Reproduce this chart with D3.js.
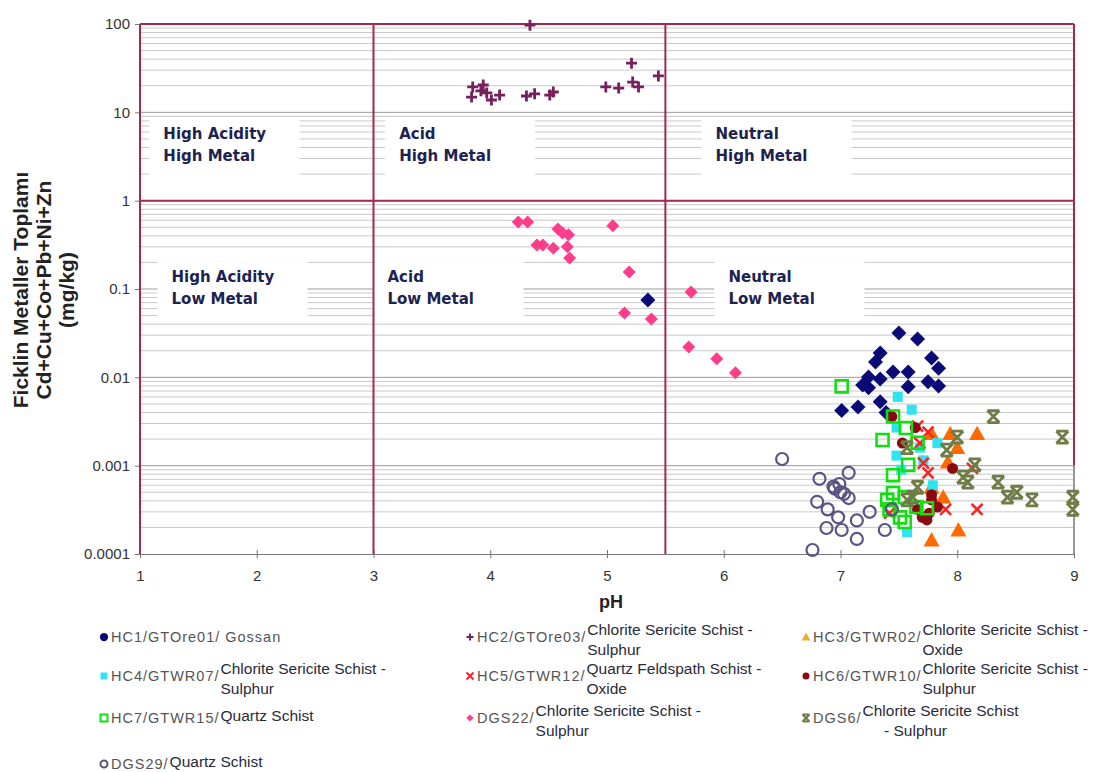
<!DOCTYPE html>
<html>
<head>
<meta charset="utf-8">
<script src="https://cdn.jsdelivr.net/npm/d3@7"></script>
<style>
  html, body { margin: 0; padding: 0; background: #fff; }
  svg { display: block; }
  .pre { white-space: pre; }
</style>
</head>
<body>
<svg id="chart" width="1107" height="772"></svg>
<script>
// pH / total metal (mg/kg) pairs for each sample group
const hc1 = [[5.35,0.075],[7.50,0.0318],[7.66,0.0272],[7.34,0.0188],[7.30,0.0149],[7.78,0.0166],[7.84,0.0127],[7.45,0.0115],[7.58,0.0115],[7.24,0.0101],[7.34,0.0096],[7.19,0.0082],[7.24,0.0076],[7.58,0.0078],[7.75,0.0089],[7.84,0.0080],[7.01,0.0042],[7.15,0.0046],[7.34,0.0053],[7.39,0.0040]];
const hc2 = [[4.34,97],[5.21,36],[5.44,25.8],[5.22,22],[5.27,19.4],[4.99,19.4],[5.10,18.8],[3.85,19.4],[3.94,20.4],[3.84,14.9],[3.97,16.6],[4.01,13.8],[4.08,15.7],[4.31,15.3],[4.38,16.2],[4.51,15.7],[4.54,17.0],[3.92,17.5]];
const hc3 = [[7.94,0.0023],[8.17,0.0023],[7.78,0.0023],[8.00,0.0016],[7.92,0.0011],[7.88,0.00044],[7.78,0.00057],[8.01,0.000187],[7.78,0.000144]];
const hc4 = [[7.49,0.006],[7.61,0.0043],[7.48,0.0027],[7.83,0.0018],[7.48,0.0013],[7.71,0.00115],[7.79,0.0006],[7.57,0.000177],[7.68,0.0016],[7.52,0.0009]];
const hc5 = [[7.66,0.0028],[7.75,0.0024],[7.71,0.00107],[7.75,0.00083],[8.17,0.00032],[7.90,0.00032],[7.42,0.00029],[8.13,0.00093],[7.68,0.0018]];
const hc6 = [[7.44,0.0036],[7.96,0.00093],[7.70,0.00026],[7.76,0.00029],[7.83,0.00034],[7.66,0.00032],[7.74,0.000243],[7.78,0.00041],[7.53,0.0018],[7.78,0.00047],[7.64,0.0027]];
const hc7 = [[7.01,0.0079],[7.45,0.0036],[7.56,0.00267],[7.36,0.00195],[7.66,0.00182],[7.58,0.00102],[7.45,0.00078],[7.45,0.00049],[7.40,0.00041],[7.55,0.00044],[7.74,0.00033],[7.42,0.00032],[7.51,0.00026],[7.65,0.00034],[7.55,0.00023]];
const dgs22 = [[4.24,0.573],[4.32,0.573],[4.58,0.478],[4.62,0.43],[4.67,0.41],[5.05,0.52],[4.40,0.315],[4.45,0.315],[4.54,0.29],[4.66,0.30],[4.68,0.224],[5.19,0.156],[5.15,0.0535],[5.38,0.0457],[5.72,0.0925],[5.70,0.022],[5.94,0.0162],[6.10,0.0113]];
const dgs6 = [[8.31,0.0036],[8.90,0.0021],[8.00,0.0021],[7.91,0.0015],[8.15,0.00102],[8.05,0.00074],[8.09,0.00065],[8.35,0.00065],[8.51,0.0005],[8.43,0.00044],[8.64,0.00041],[8.99,0.00044],[8.99,0.00032],[7.57,0.0016],[7.66,0.00057],[7.57,0.00041],[7.62,0.00044]];
const dgs29 = [[6.50,0.00119],[6.82,0.00071],[7.07,0.00083],[6.94,0.00058],[7.00,0.0005],[7.07,0.00043],[6.80,0.00039],[6.89,0.00032],[6.98,0.00026],[7.14,0.00024],[7.25,0.0003],[6.88,0.000197],[7.01,0.000187],[7.14,0.000148],[7.38,0.000187],[6.76,0.000111],[7.44,0.00032],[6.95,0.00055],[6.99,0.00062],[7.03,0.00048]];

// axis ticks and class boundaries
const xTicks = [1, 2, 3, 4, 5, 6, 7, 8, 9];
const yTicks = [0.0001, 0.001, 0.01, 0.1, 1, 10, 100];
const yTickLabels = ["0.0001", "0.001", "0.01", "0.1", "1", "10", "100"];
const pHBounds = [3, 5.5];
const metalBound = 1;

// legend entries: code, description lines
const legendCodes = ["HC1/GTOre01/ Gossan", "HC2/GTOre03/", "HC3/GTWR02/", "HC4/GTWR07/", "HC5/GTWR12/", "HC6/GTWR10/", "HC7/GTWR15/", "DGS22/", "DGS6/", "DGS29/"];
const legendDescs = [[], ["Chlorite Sericite Schist -", "Sulphur"], ["Chlorite Sericite Schist -", "Oxide"], ["Chlorite Sericite Schist -", "Sulphur"], ["Quartz Feldspath Schist -", "Oxide"], ["Chlorite Sericite Schist -", "Sulphur"], ["Quartz Schist"], ["Chlorite Sericite Schist -", "Sulphur"], ["Chlorite Sericite Schist", "     - Sulphur"], ["Quartz Schist"]];

const regionLabels = [
  {lines: ["High Acidity", "High Metal"], ph: 1.2, v: 5},
  {lines: ["Acid", "High Metal"], ph: 3.22, v: 5},
  {lines: ["Neutral", "High Metal"], ph: 5.93, v: 5},
  {lines: ["High Acidity", "Low Metal"], ph: 1.27, v: 0.12},
  {lines: ["Acid", "Low Metal"], ph: 3.12, v: 0.12},
  {lines: ["Neutral", "Low Metal"], ph: 6.04, v: 0.12}
];

const m = {left: 140, right: 1074, top: 24, bottom: 554};
const svg = d3.select("#chart");
const x = d3.scaleLinear().domain([1, 9]).range([m.left, m.right]);
const y = d3.scaleLog().domain([0.0001, 100]).range([m.bottom, m.top]);
const boundColor = "#a32a4c";
const sans = "Liberation Sans, Arial, sans-serif";

// horizontal log grid
const grid = svg.append("g");
const minor = [];
for (let e = -4; e < 2; e++) for (let k = 2; k <= 9; k++) minor.push(k * Math.pow(10, e));
grid.selectAll("line.minor").data(minor).join("line")
  .attr("x1", m.left).attr("x2", m.right)
  .attr("y1", d => y(d)).attr("y2", d => y(d))
  .attr("stroke", "#c9c9c9").attr("stroke-width", 1);
grid.selectAll("line.major").data(yTicks.slice(1, -1)).join("line")
  .attr("x1", m.left).attr("x2", m.right)
  .attr("y1", d => y(d)).attr("y2", d => y(d))
  .attr("stroke", "#9a9a9a").attr("stroke-width", 1);

// white boxes behind the region labels
const labelG = svg.append("g");
regionLabels.forEach(r => {
  const x0 = x(r.ph), y0 = y(r.v);
  labelG.append("rect").attr("x", x0 - 14).attr("y", y0 - 20)
    .attr("width", 150).attr("height", 58).attr("fill", "#fff");
});

// bottom axis
const xAxis = svg.append("g").attr("transform", `translate(0,${m.bottom})`)
  .call(d3.axisBottom(x).tickValues(xTicks).tickFormat(d3.format("d")).tickSize(4));
xAxis.select(".domain").attr("stroke", "#777");
xAxis.selectAll(".tick line").attr("stroke", "#777").attr("y1", -4).attr("y2", 4);
xAxis.selectAll("text").attr("font-family", sans)
  .attr("font-size", 15).attr("fill", "#333").attr("dy", "1.35em");

// left axis
const yAxis = svg.append("g").attr("transform", `translate(${m.left},0)`)
  .call(d3.axisLeft(y).tickValues(yTicks).tickFormat((d, i) => yTickLabels[i]).tickSize(5));
yAxis.select(".domain").remove();
yAxis.selectAll(".tick line").attr("stroke", "#777");
yAxis.selectAll("text").attr("font-family", sans)
  .attr("font-size", 15).attr("fill", "#333").attr("x", -10);

// class boundaries and frame
const frame = svg.append("g").attr("stroke", boundColor).attr("stroke-width", 2).attr("fill", "none");
frame.append("line").attr("x1", m.left).attr("x2", m.right).attr("y1", y(100)).attr("y2", y(100));
frame.append("line").attr("x1", m.left).attr("x2", m.right).attr("y1", y(metalBound)).attr("y2", y(metalBound));
frame.append("line").attr("x1", m.left).attr("x2", m.left).attr("y1", m.top).attr("y2", m.bottom);
frame.append("line").attr("x1", m.right).attr("x2", m.right).attr("y1", m.top).attr("y2", y(0.001));
frame.append("line").attr("x1", m.right).attr("x2", m.right).attr("y1", y(0.001)).attr("y2", m.bottom).attr("stroke", "#999");
pHBounds.forEach(p => frame.append("line").attr("x1", x(p)).attr("x2", x(p)).attr("y1", m.top).attr("y2", m.bottom));

// region labels
regionLabels.forEach(r => {
  const t = labelG.append("text").attr("x", x(r.ph)).attr("y", y(r.v))
    .attr("font-family", "DejaVu Sans, Verdana, sans-serif").attr("font-weight", "bold")
    .attr("font-size", 15).attr("fill", "#1d2350");
  r.lines.forEach((ln, i) => t.append("tspan").attr("x", x(r.ph)).attr("dy", i ? 22 : 0).text(ln));
});

// marker shapes
function shapePath(type, r) {
  switch (type) {
    case "diamond": return `M0,${-r}L${r},0L0,${r}L${-r},0Z`;
    case "square": return `M${-r},${-r}H${r}V${r}H${-r}Z`;
    case "triangle": return `M0,${-r}L${r},${r * 0.8}L${-r},${r * 0.8}Z`;
    case "plus": return `M${-r},0H${r}M0,${-r}V${r}`;
    case "x": return `M${-r},${-r}L${r},${r}M${-r},${r}L${r},${-r}`;
    case "star": return `M${-r},${-r}L${r},${r}M${-r},${r}L${r},${-r}M${-r},${-r}H${r}M${-r},${r}H${r}`;
    case "circle": return `M${r},0A${r},${r} 0 1 1 ${-r},0A${r},${r} 0 1 1 ${r},0Z`;
  }
}

const series = [
  {data: hc1, type: "diamond", r: 7.5, fill: "#0b0b78", stroke: "none", sw: 0},
  {data: hc2, type: "plus", r: 5.5, fill: "none", stroke: "#76205e", sw: 2.8},
  {data: hc3, type: "triangle", r: 8, fill: "#ff6a00", stroke: "none", sw: 0},
  {data: hc4, type: "square", r: 5, fill: "#2fe3f0", stroke: "none", sw: 0},
  {data: hc5, type: "x", r: 5.5, fill: "none", stroke: "#ff2222", sw: 2.6},
  {data: hc6, type: "circle", r: 5.5, fill: "#8a0a12", stroke: "none", sw: 0},
  {data: hc7, type: "square", r: 6, fill: "none", stroke: "#10e010", sw: 2.6},
  {data: dgs22, type: "diamond", r: 6.5, fill: "#ff3d8b", stroke: "none", sw: 0},
  {data: dgs6, type: "star", r: 6, fill: "none", stroke: "#6e7c46", sw: 2.8},
  {data: dgs29, type: "circle", r: 6, fill: "none", stroke: "#5b5482", sw: 2.2}
];

const marks = svg.append("g");
series.forEach(s => {
  marks.append("g").selectAll("path").data(s.data).join("path")
    .attr("transform", d => `translate(${x(d[0])},${y(d[1])})`)
    .attr("d", shapePath(s.type, s.r))
    .attr("fill", s.fill).attr("stroke", s.stroke).attr("stroke-width", s.sw);
});

// axis titles
svg.append("text").attr("x", (x(1) + x(9)) / 2 + 4).attr("y", 608).attr("text-anchor", "middle")
  .attr("font-family", sans).attr("font-weight", "bold")
  .attr("font-size", 18).attr("fill", "#222").text("pH");
const yTitle = ["Ficklin Metaller Toplamı", "Cd+Cu+Co+Pb+Ni+Zn", "(mg/kg)"];
yTitle.forEach((t, i) => {
  svg.append("text").attr("transform", `translate(${28 + i * 23},290) rotate(-90)`)
    .attr("text-anchor", "middle")
    .attr("font-family", sans).attr("font-weight", "bold")
    .attr("font-size", 21).attr("fill", "#222").text(t);
});

// legend
const legendCols = [104, 470, 806];
const legendRows = [637, 676, 718, 764];
const legendColors = {2: "#e8b030"};
const lg = svg.append("g");
series.forEach((s, i) => {
  const col = i % 3, row = Math.floor(i / 3);
  const cx = legendCols[col], cy = legendRows[row];
  const g = lg.append("g");
  const fill = s.fill === "none" ? "none" : (legendColors[i] || s.fill);
  g.append("path").attr("transform", `translate(${cx},${cy})`)
    .attr("d", shapePath(i === 0 ? "circle" : s.type, Math.max(3.5, s.r * 0.55)))
    .attr("fill", fill).attr("stroke", s.stroke).attr("stroke-width", s.sw ? 2 : 0);
  const code = g.append("text").attr("x", cx + 7).attr("y", cy + 5)
    .attr("font-family", sans).attr("font-size", 14.5)
    .attr("letter-spacing", 1).attr("fill", "#555").text(legendCodes[i]);
  const dx = cx + 7 + code.node().getComputedTextLength() + 1;
  const desc = legendDescs[i];
  if (desc.length) {
    const t = g.append("text").attr("class", "pre").attr("y", desc.length === 1 ? cy + 3 : cy - 2)
      .attr("font-family", sans).attr("font-size", 15.5).attr("fill", "#2a2a3a");
    desc.forEach((ln, k) => t.append("tspan").attr("x", dx).attr("dy", k ? 20 : 0).text(ln));
  }
});
</script>
</body>
</html>
